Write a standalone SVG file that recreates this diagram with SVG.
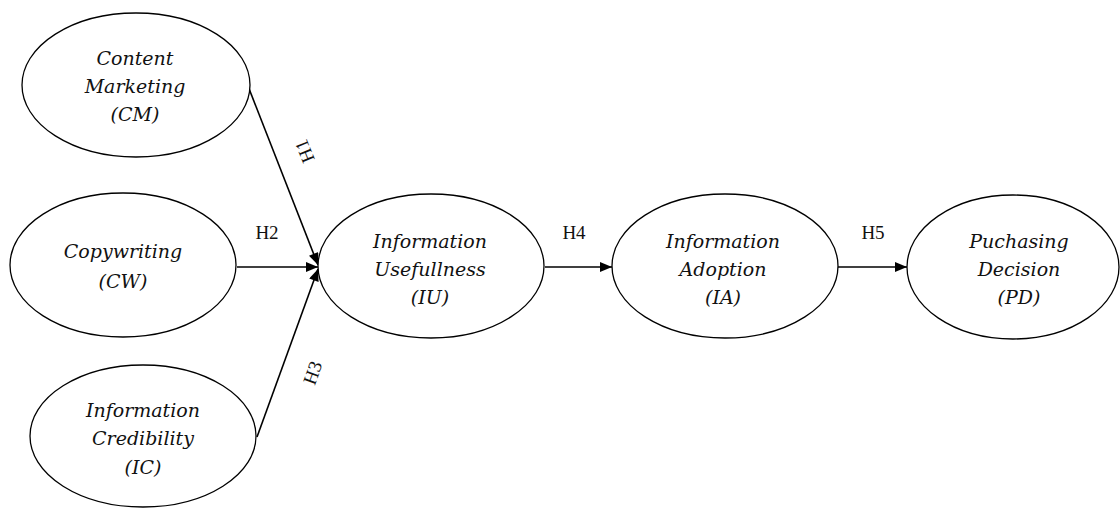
<svg xmlns="http://www.w3.org/2000/svg" width="1120" height="508" viewBox="0 0 1120 508">
<style>
.node ellipse{fill:#fff;stroke:#000;stroke-width:1.3}
.node text{font-family:"DejaVu Serif","Liberation Serif",serif;font-style:italic;font-size:19px;text-anchor:middle;fill:#111}
.conn line{stroke:#000;stroke-width:1.6}
.lbl{font-family:"Liberation Serif","Times New Roman",serif;font-size:19px;text-anchor:middle;fill:#111}
</style>
<defs>
<marker id="ah" viewBox="0 0 12 10" refX="12" refY="5" markerWidth="13" markerHeight="10" markerUnits="userSpaceOnUse" orient="auto">
<path d="M0,0 L12,5 L0,10 Z" fill="#000"/>
</marker>
</defs>
<rect width="1120" height="508" fill="#fff"/>
<g class="conn">
<line x1="248" y1="86" x2="318" y2="265" marker-end="url(#ah)"/>
<line x1="237" y1="267" x2="318" y2="267" marker-end="url(#ah)"/>
<line x1="257" y1="437" x2="318" y2="269" marker-end="url(#ah)"/>
<line x1="545" y1="267" x2="612" y2="267" marker-end="url(#ah)"/>
<line x1="838" y1="267" x2="907" y2="267" marker-end="url(#ah)"/>
<text class="lbl" transform="translate(305,151) rotate(-112)" y="6">H1</text>
<text class="lbl" x="267" y="239">H2</text>
<text class="lbl" transform="translate(313,373) rotate(-70)" y="6">H3</text>
<text class="lbl" x="574" y="239">H4</text>
<text class="lbl" x="873" y="239">H5</text>
</g>
<g id="CM" class="node">
<ellipse cx="136" cy="85" rx="114" ry="72"/>
<text x="135" y="65">Content</text>
<text x="135" y="93">Marketing</text>
<text x="135" y="121">(CM)</text>
</g>
<g id="CW" class="node">
<ellipse cx="123" cy="265" rx="113" ry="72"/>
<text x="123" y="258">Copywriting</text>
<text x="123" y="288">(CW)</text>
</g>
<g id="IC" class="node">
<ellipse cx="143" cy="436" rx="113" ry="71"/>
<text x="143" y="417">Information</text>
<text x="143" y="445">Credibility</text>
<text x="143" y="474">(IC)</text>
</g>
<g id="IU" class="node">
<ellipse cx="431" cy="266" rx="113" ry="72"/>
<text x="430" y="248">Information</text>
<text x="430" y="276">Usefullness</text>
<text x="430" y="304">(IU)</text>
</g>
<g id="IA" class="node">
<ellipse cx="725" cy="266" rx="113" ry="72"/>
<text x="723" y="248">Information</text>
<text x="723" y="276">Adoption</text>
<text x="723" y="304">(IA)</text>
</g>
<g id="PD" class="node">
<ellipse cx="1013" cy="267" rx="106" ry="72"/>
<text x="1019" y="248">Puchasing</text>
<text x="1019" y="276">Decision</text>
<text x="1019" y="304">(PD)</text>
</g>
</svg>
